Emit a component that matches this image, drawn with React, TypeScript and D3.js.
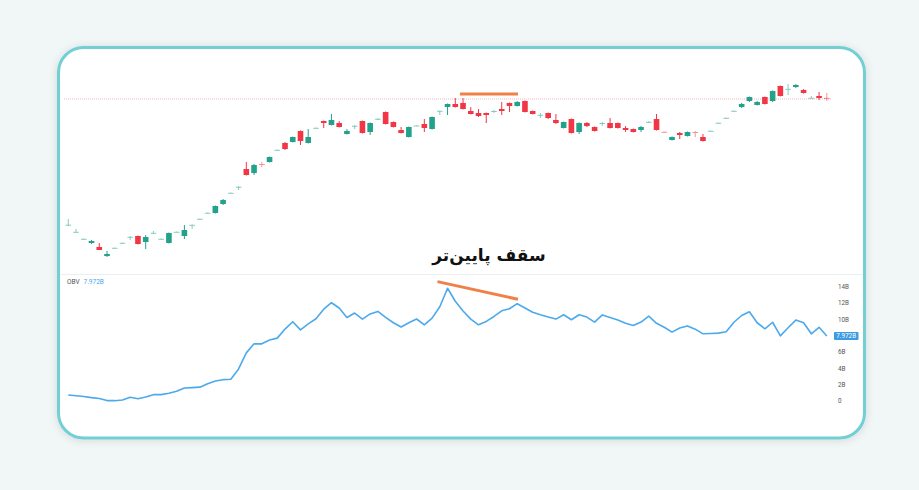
import React from "react";
import * as d3 from "d3";

// ---- Data ----
const opens = [75,68,61,57,53,44,52,57,63,64,58,67,61,57,68,64,75,81,87,87,96,107,113,131,127,136,138,150,157,158,169,157,172,179,175,177,166,174,179,168,181,188,178,170,163,174.3,176,171,189,193,196,197,189,187,187,188,191,197,194,199,189,185,187,180,172,181,168,177,173,176,177,177,172,171,170,178,181,168.2,160,167,164,168,163,169,177,182,189,193,199,195,203,199,214,211,213,210,202,204,202.2];
const highs = [81,71,61.5,60,57,49,52.5,57.5,64,64.5,65,69,61.5,67.5,68.5,75,75.5,81.5,87.5,94.5,101,107.5,114,138,136,138,143.5,150.5,158,163.5,169.5,171,172.5,179.5,186,179,171,175,179.5,177.5,182,188.5,178.5,173,173.5,174.8,181,183.5,189.5,196.5,202,202,193,191,187.5,190,198,197.5,199,199.5,189.5,187,187.5,186,178.5,181.5,177.5,178,173.5,178,182,177.5,174,171.5,174,179,186,168.5,163.5,168,168.5,169,166,169.5,177.5,182.5,189.5,197,203.5,199,203.5,209.5,214.5,216,216,211,204,208,207];
const lows = [74,67,60.5,56,50,43,51.8,56.8,60,55.5,51,66,60,56.5,67.8,61,71,80.8,86.8,86.5,95,106.8,110,124.5,125,133,137.5,149.8,150,157.5,155,156.5,171.8,172,174.5,172.5,165.5,171,166.5,165,180,175.5,172.5,166.5,162.5,174,168,170.5,185,185,192.5,190.5,185.5,183,177,187,185,188,193.5,187.5,185.5,182,181,176,171.5,166.5,166,173,168.5,174,171.5,171.5,168,167.5,168,177,169.5,167.8,159.5,161,163.5,163,158.5,168.8,176.8,181.8,188.8,192,198,194.5,195.5,198,203.5,205,212,206.5,201.8,200,199];
const closes = [75.3,68.2,61.2,59,50,46,52.2,57.2,63.2,56,63,67.2,61.2,67,68.2,70,75.2,81.2,87.2,94,100,107.2,113.2,125,135,135,143,150.2,151,163,159,163,172.2,177,180,173,169,174.2,167,177,181.2,176,173,167,173,174.5,172,183,189.2,196,193,191,186,184,185,189,189,194,198,188,186,185.2,182,177,178,167,177,174,169,177,172,172,170,168,173,178.2,170,168,163,165,168,167,159,169.2,177.2,182.2,189.2,196,203,198,196,209,204,211.2,215,207,202.2,202,201];

const obv = [0.74,0.64,0.55,0.41,0.30,0.05,0.04,0.12,0.46,0.28,0.49,0.78,0.78,0.95,1.19,1.60,1.64,1.70,2.12,2.46,2.62,2.67,3.94,5.91,7.02,7.02,7.49,7.72,8.83,9.73,8.74,9.48,10.10,11.27,12.07,11.42,10.26,10.80,10.06,10.69,11.00,10.28,9.61,9.08,9.61,10.07,9.36,10.18,11.58,13.85,12.25,11.05,10.06,9.36,9.77,10.38,11.08,11.33,11.95,11.42,10.90,10.59,10.31,10.06,10.59,9.98,10.59,10.31,9.69,10.57,10.25,9.95,9.54,9.27,9.70,10.43,9.54,9.06,8.46,8.97,9.22,8.82,8.25,8.29,8.34,8.50,9.67,10.50,10.96,9.61,8.87,9.67,8.00,8.99,9.94,9.61,8.25,9.05,7.972];

const obvTicks = [0, 2, 4, 6, 10, 12, 14];
const lastObvLabel = "7.972B";
const title = "سقف پایین\u200cتر";

// annotation lines: [index, value]
const priceAnnot = [[50.6, 206], [58.1, 206]];
const obvAnnot = [[47.7, 14.66], [58.1, 12.49]];

const UP = "#22a28b";
const DOWN = "#f23645";
const OBV_COLOR = "#4ba9ec";
const ORANGE = "#ef8148";

export default function App() {
  const W = 919, H = 490;
  const n = closes.length;
  const x = d3.scaleLinear().domain([0, n - 1]).range([68.3, 826.8]);
  const yP = d3.scaleLinear().domain([40, 220]).range([260, 80]);
  const yO = d3.scaleLinear().domain([0, 14]).range([401, 287]);
  const bw = 5.6;

  const line = d3.line<number>().x((_, i) => x(i)).y((d) => yO(d));
  const lastClose = closes[n - 1];

  return (
    <svg width={W} height={H} style={{ position: "absolute", left: 0, top: 0 }} xmlns="http://www.w3.org/2000/svg">
      <defs>
        <filter id="sh" x="-10%" y="-10%" width="120%" height="120%">
          <feDropShadow dx="0" dy="1" stdDeviation="4" floodColor="#000" floodOpacity="0.12" />
        </filter>
      </defs>
      <rect x={0} y={0} width={W} height={H} fill="#f1f6f6" />
      <rect x={58.5} y={47.5} width={806} height={390.5} rx={25} ry={25} fill="#ffffff" stroke="#72cfd4" strokeWidth={3} filter="url(#sh)" />

      {/* last price dotted line */}
      <line x1={64} x2={832} y1={yP(lastClose)} y2={yP(lastClose)} stroke="#f8b4ba" strokeWidth={1} strokeDasharray="1 1" />

      {/* candles */}
      {closes.map((c, i) => {
        const o = opens[i];
        const up = c >= o;
        const col = up ? UP : DOWN;
        const yTop = yP(Math.max(o, c));
        const yBot = yP(Math.min(o, c));
        const h = Math.max(yBot - yTop, 1);
        const flat = yBot - yTop < 1.2;
        const cx = x(i);
        return (
          <g key={i} opacity={flat ? 0.55 : 1}>
            <line x1={cx} x2={cx} y1={yP(highs[i])} y2={yP(lows[i])} stroke={col} strokeWidth={1} />
            <rect x={cx - bw / 2} y={yTop} width={bw} height={h} fill={col} />
          </g>
        );
      })}

      {/* price annotation */}
      <line x1={x(priceAnnot[0][0])} x2={x(priceAnnot[1][0])} y1={yP(priceAnnot[0][1])} y2={yP(priceAnnot[1][1])} stroke={ORANGE} strokeWidth={3.2} />

      {/* title */}
      <text x={489} y={261} textAnchor="middle" direction="rtl" fontFamily="'DejaVu Sans', sans-serif" fontWeight="bold" fontSize={17} fill="#111">{title}</text>

      {/* OBV pane separator */}
      <line x1={60} x2={863} y1={274.5} y2={274.5} stroke="#eceff2" strokeWidth={1} />
      <text x={67} y={283.5} fontFamily="Roboto, 'Liberation Sans', sans-serif" fontSize={6.5} fill="#555">OBV</text>
      <text x={83.5} y={283.5} fontFamily="Roboto, 'Liberation Sans', sans-serif" fontSize={6.5} fill={OBV_COLOR}>{lastObvLabel}</text>

      <path d={line(obv) || ""} fill="none" stroke={OBV_COLOR} strokeWidth={1.6} strokeLinejoin="round" />
      <line x1={x(obvAnnot[0][0])} x2={x(obvAnnot[1][0])} y1={yO(obvAnnot[0][1])} y2={yO(obvAnnot[1][1])} stroke={ORANGE} strokeWidth={3} />

      {obvTicks.map((t) => (
        <text key={t} x={838} y={yO(t)} dy="0.35em" fontFamily="Roboto, 'Liberation Sans', sans-serif" fontSize={6.3} fill="#555">{t === 0 ? "0" : `${t}B`}</text>
      ))}
      <rect x={834} y={yO(obv[n - 1]) - 4} width={24.5} height={8} rx={1} fill="#3d9be3" />
      <text x={846.2} y={yO(obv[n - 1])} dy="0.35em" textAnchor="middle" fontFamily="Roboto, 'Liberation Sans', sans-serif" fontSize={6.3} fill="#fff">{lastObvLabel}</text>
    </svg>
  );
}
